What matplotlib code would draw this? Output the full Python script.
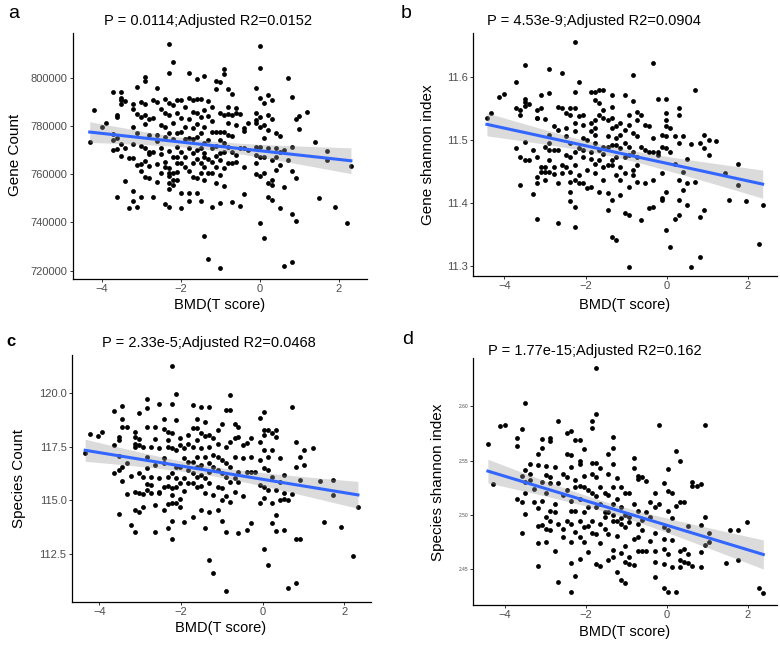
import numpy as np
import matplotlib
matplotlib.use("Agg")
import matplotlib.pyplot as plt

plt.rcParams['font.family'] = ['Liberation Sans', 'DejaVu Sans']

# each panel: list of (BMD T score, [values at that T score])

# a: gene count, in thousands
gene_count = [
    (-4.3, [773.1]), (-4.2, [786.5]), (-4.0, [779.5]), (-3.9, [781.2]),
    (-3.7, [793.9, 776.5, 774.2, 770.1]),
    (-3.6, [784.5, 783.7, 775.1, 770.6, 750.7]),
    (-3.5, [794.0, 791.7, 788.9, 790.7, 772.6, 767.7]),
    (-3.4, [790.2, 770.7, 757.2]),
    (-3.3, [766.6, 746.0]),
    (-3.2, [789.2, 787.0, 779.5, 772.5, 766.6, 753.0, 749.0]),
    (-3.1, [796.1, 784.9, 777.2, 763.9, 746.5]),
    (-3.0, [790.0, 783.8, 771.8, 764.1, 761.2, 750.4]),
    (-2.9, [800.4, 798.6, 789.2, 784.7, 780.8, 771.0, 765.6, 759.0]),
    (-2.8, [783.0, 776.1, 769.2, 768.2, 763.5, 758.3]),
    (-2.7, [790.7, 783.1, 769.0, 750.7]),
    (-2.6, [795.6, 790.0, 776.2, 773.6, 764.1, 756.9]),
    (-2.5, [787.0, 780.4, 771.0, 760.3, 768.2]),
    (-2.4, [791.3, 785.2, 779.4, 775.4, 765.2, 747.6, 763.1]),
    (-2.3, [814.1, 801.8, 789.4, 784.5, 776.9, 769.7, 762.4, 760.3, 759.2, 756.2, 753.7, 746.5]),
    (-2.2, [806.5, 788.7, 781.1, 774.7, 767.2, 760.3, 757.6, 755.5]),
    (-2.1, [790.7, 785.2, 776.9, 771.4, 767.2, 764.5, 761.0, 757.6]),
    (-2.0, [790.7, 783.1, 777.6, 769.3, 764.5, 752.0, 745.8]),
    (-1.9, [788.0, 779.7, 774.4, 767.2, 763.1]),
    (-1.8, [801.8, 791.4, 782.9, 774.8, 770.7, 761.4, 752.3, 749.0]),
    (-1.7, [790.7, 785.9, 779.0, 774.6, 768.9, 764.5, 759.0]),
    (-1.6, [799.4, 791.3, 785.2, 780.8, 775.5, 770.0, 766.1, 758.3, 752.3]),
    (-1.5, [791.3, 783.8, 776.9, 770.7, 764.5, 760.3, 749.0]),
    (-1.4, [800.7, 786.6, 779.4, 772.8, 768.6, 767.2, 763.1, 757.6, 734.4]),
    (-1.3, [790.2, 784.2, 774.2, 766.1, 760.6, 724.7]),
    (-1.2, [788.0, 782.2, 777.6, 770.7, 765.2, 760.3, 746.5]),
    (-1.1, [798.6, 795.4, 777.6, 771.7, 767.5, 763.1, 756.2]),
    (-1.0, [798.1, 785.2, 777.6, 774.2, 768.6, 765.9, 759.6, 748.2, 721.0]),
    (-0.9, [803.5, 801.5, 784.5, 777.6, 772.8, 769.3, 762.4, 755.1]),
    (-0.8, [795.4, 787.7, 784.8, 781.1, 776.2, 771.4, 764.5]),
    (-0.7, [793.4, 784.5, 775.8, 769.3, 764.5, 748.6]),
    (-0.6, [787.3, 785.2, 780.4, 768.0, 765.2]),
    (-0.5, [784.9, 770.7, 746.8]),
    (-0.4, [779.0, 777.9, 770.7, 763.1, 751.6]),
    (-0.3, [781.1, 770.0]),
    (-0.1, [795.7, 785.2, 782.4, 781.1, 771.4, 768.0, 764.8, 760.1]),
    (0.0, [813.3, 804.1, 791.4, 783.8, 779.7, 771.4, 767.2, 759.2, 739.9]),
    (0.1, [789.4, 780.4, 774.8, 767.2, 760.6, 733.4]),
    (0.2, [792.8, 784.5, 778.3, 770.7, 756.2, 750.4]),
    (0.3, [790.7, 782.7, 765.9, 757.4, 749.3, 755.5]),
    (0.4, [776.9, 770.7, 767.2, 761.7]),
    (0.5, [775.8, 769.3, 763.8, 745.8]),
    (0.6, [770.0, 754.8, 722.1]),
    (0.7, [800.0, 765.9]),
    (0.8, [792.0, 771.4, 761.4, 743.3, 723.4]),
    (0.9, [782.7, 758.5, 740.6]),
    (1.0, [784.2, 778.6]),
    (1.2, [785.9]), (1.4, [773.1]), (1.5, [750.0]),
    (1.7, [769.7, 765.9]), (1.9, [746.5]), (2.2, [739.9]), (2.3, [763.5]),
]

# b: gene shannon index
gene_shannon = [
    (-4.43, [11.535]), (-4.32, [11.543]), (-4.12, [11.567]), (-4.0, [11.572]),
    (-3.71, [11.592, 11.550, 11.486]),
    (-3.61, [11.547, 11.539, 11.473, 11.428]),
    (-3.50, [11.618, 11.565, 11.560, 11.553, 11.496, 11.467]),
    (-3.40, [11.557, 11.467]),
    (-3.30, [11.483, 11.414]),
    (-3.20, [11.547, 11.535, 11.534, 11.473, 11.441, 11.431, 11.375]),
    (-3.10, [11.571, 11.550, 11.457, 11.448]),
    (-3.00, [11.533, 11.489, 11.457, 11.448, 11.436]),
    (-2.89, [11.612, 11.574, 11.507, 11.494, 11.484, 11.467, 11.448]),
    (-2.79, [11.521, 11.484, 11.457, 11.445]),
    (-2.68, [11.552, 11.516, 11.484, 11.431, 11.368]),
    (-2.58, [11.606, 11.550, 11.460, 11.447]),
    (-2.48, [11.542, 11.518, 11.505, 11.476, 11.457]),
    (-2.38, [11.550, 11.539, 11.494, 11.473, 11.449, 11.433, 11.417, 11.402]),
    (-2.27, [11.654, 11.576, 11.550, 11.526, 11.513, 11.481, 11.460, 11.436, 11.394, 11.362]),
    (-2.17, [11.592, 11.537, 11.486, 11.444, 11.431]),
    (-2.07, [11.539, 11.523, 11.502, 11.484, 11.473, 11.432]),
    (-1.97, [11.500, 11.452, 11.423]),
    (-1.86, [11.576, 11.526, 11.513, 11.481, 11.470, 11.425]),
    (-1.76, [11.576, 11.563, 11.531, 11.518, 11.507, 11.494, 11.462, 11.447]),
    (-1.66, [11.579, 11.558, 11.539, 11.484, 11.468, 11.417]),
    (-1.56, [11.579, 11.547, 11.534, 11.489, 11.478, 11.457, 11.436]),
    (-1.45, [11.531, 11.505, 11.489, 11.460, 11.415, 11.388]),
    (-1.35, [11.571, 11.552, 11.534, 11.518, 11.492, 11.468, 11.460, 11.404, 11.346]),
    (-1.25, [11.521, 11.502, 11.492, 11.473, 11.444, 11.341]),
    (-1.15, [11.526, 11.507, 11.486, 11.457, 11.436, 11.412]),
    (-1.04, [11.571, 11.515, 11.494, 11.473, 11.447, 11.383]),
    (-0.94, [11.539, 11.523, 11.489, 11.476, 11.425, 11.380, 11.298]),
    (-0.84, [11.603, 11.562, 11.510, 11.481, 11.452, 11.444]),
    (-0.74, [11.544, 11.531, 11.505, 11.473, 11.460, 11.433]),
    (-0.63, [11.539, 11.489, 11.372]),
    (-0.53, [11.523, 11.484, 11.431]),
    (-0.43, [11.521, 11.481, 11.391]),
    (-0.33, [11.621, 11.502, 11.481, 11.436, 11.394]),
    (-0.22, [11.565, 11.481, 11.476]),
    (-0.12, [11.507, 11.489, 11.447, 11.407, 11.404]),
    (-0.02, [11.565, 11.542, 11.531, 11.521, 11.505, 11.486, 11.417, 11.357]),
    (0.08, [11.518, 11.481, 11.330]),
    (0.19, [11.505, 11.462, 11.375]),
    (0.29, [11.550, 11.539, 11.494, 11.436, 11.404, 11.380]),
    (0.39, [11.505, 11.449, 11.420]),
    (0.49, [11.470, 11.431, 11.396]),
    (0.60, [11.493, 11.298]),
    (0.70, [11.579, 11.433]),
    (0.82, [11.495, 11.378, 11.314]),
    (0.92, [11.507, 11.486, 11.389]),
    (1.03, [11.500, 11.476]),
    (1.21, [11.498]), (1.44, [11.447]), (1.54, [11.404]),
    (1.75, [11.461, 11.428]), (1.94, [11.402]), (2.26, [11.334]), (2.36, [11.396]),
]

# c: species count
species_count = [
    (-4.35, [117.18]), (-4.24, [118.06]), (-4.04, [117.98]), (-3.94, [118.19]),
    (-3.64, [119.16, 117.57, 116.29]),
    (-3.53, [117.95, 117.80, 117.07, 116.40, 114.36]),
    (-3.44, [119.40, 118.80, 118.39, 116.56, 115.89]),
    (-3.33, [118.42, 116.71, 115.29]),
    (-3.22, [116.12, 113.84]),
    (-3.14, [118.19, 117.95, 117.64, 117.49, 115.40, 114.54, 113.53]),
    (-3.03, [119.04, 117.84, 117.57, 116.25, 115.35, 114.47]),
    (-2.94, [117.46, 116.09, 115.27, 114.70]),
    (-2.84, [119.71, 119.27, 118.42, 117.02, 116.48, 115.75, 115.50]),
    (-2.73, [117.49, 116.09, 115.71, 115.32]),
    (-2.64, [118.42, 117.83, 116.64, 114.78, 113.52]),
    (-2.53, [119.47, 117.41, 116.02, 115.40, 115.32]),
    (-2.43, [118.76, 118.31, 116.95, 116.71, 115.63, 114.54]),
    (-2.33, [118.19, 117.80, 117.49, 116.09, 115.66, 114.82, 113.69]),
    (-2.23, [121.24, 119.47, 118.11, 117.44, 116.25, 115.55, 115.24, 114.85, 114.05, 113.18]),
    (-2.12, [119.94, 118.73, 117.33, 116.56, 116.02, 115.63, 114.85]),
    (-2.02, [117.88, 117.57, 116.56, 115.78, 115.04, 114.70]),
    (-1.92, [117.41, 116.95, 116.02, 115.43, 114.00]),
    (-1.82, [118.03, 117.64, 116.79, 116.40, 115.78]),
    (-1.71, [119.43, 118.34, 117.49, 116.79, 116.25, 115.78, 114.23]),
    (-1.62, [118.76, 118.34, 117.80, 117.02, 116.56, 116.09, 115.63]),
    (-1.51, [119.32, 118.11, 117.41, 116.64, 116.17, 115.66, 114.54]),
    (-1.41, [118.65, 117.98, 117.02, 116.02, 115.32, 113.69]),
    (-1.31, [119.35, 118.03, 117.49, 116.71, 116.33, 115.78, 114.47, 112.22]),
    (-1.21, [117.88, 117.10, 116.56, 115.24, 111.60]),
    (-1.10, [118.26, 117.64, 117.02, 116.40, 115.63, 114.54]),
    (-1.00, [118.53, 116.87, 116.25, 115.55, 115.00, 114.05]),
    (-0.90, [119.19, 117.49, 116.71, 116.09, 115.19, 113.53, 110.79]),
    (-0.80, [119.89, 119.19, 117.72, 116.56, 115.86, 114.93]),
    (-0.69, [118.57, 117.88, 117.02, 116.02, 115.40]),
    (-0.60, [118.42, 117.95, 116.33, 115.86, 113.46]),
    (-0.49, [117.57, 116.95, 115.19]),
    (-0.39, [117.67, 116.33, 113.61]),
    (-0.29, [117.88, 117.02, 116.33, 113.95]),
    (-0.19, [116.33]),
    (-0.08, [118.81, 117.72, 116.87, 115.71, 114.85]),
    (0.02, [119.12, 118.29, 118.03, 117.33, 116.48, 115.63, 115.09, 112.73]),
    (0.12, [118.26, 117.02, 116.40, 115.47, 111.98]),
    (0.22, [118.11, 117.33, 116.09, 114.85, 113.95]),
    (0.33, [118.26, 117.95, 115.47, 114.31, 113.57]),
    (0.42, [116.95, 115.86, 115.00]),
    (0.53, [116.17, 115.35, 115.04, 113.61]),
    (0.63, [115.00, 110.90]),
    (0.71, [119.35, 115.29]),
    (0.81, [117.72, 116.56, 113.22, 111.13]),
    (0.91, [117.02, 115.94, 113.22]),
    (1.01, [117.33, 116.64]),
    (1.22, [117.41]), (1.40, [115.89]), (1.51, [113.97]),
    (1.71, [115.94, 115.24]), (1.91, [113.74]), (2.22, [112.40]), (2.33, [114.67]),
]

# d: species shannon index
species_shannon = [
    (-4.41, [2.565]), (-4.29, [2.528]), (-4.10, [2.582]), (-3.98, [2.583]),
    (-3.69, [2.571, 2.563, 2.515]),
    (-3.58, [2.579, 2.536, 2.512, 2.483]),
    (-3.49, [2.603, 2.541, 2.530, 2.520, 2.501]),
    (-3.38, [2.547, 2.538, 2.532]),
    (-3.28, [2.524, 2.512]),
    (-3.17, [2.556, 2.546, 2.506, 2.490, 2.474, 2.453]),
    (-3.08, [2.570, 2.562, 2.530, 2.513, 2.491]),
    (-2.97, [2.545, 2.537, 2.520, 2.498, 2.487, 2.475]),
    (-2.87, [2.571, 2.568, 2.535, 2.529, 2.504, 2.494, 2.486]),
    (-2.76, [2.544, 2.510, 2.503, 2.467]),
    (-2.67, [2.586, 2.529, 2.492, 2.438]),
    (-2.56, [2.538, 2.518, 2.487, 2.480]),
    (-2.46, [2.575, 2.556, 2.535, 2.523, 2.494]),
    (-2.35, [2.577, 2.555, 2.544, 2.513, 2.504, 2.492, 2.475, 2.456, 2.429]),
    (-2.26, [2.569, 2.532, 2.526, 2.504, 2.484, 2.444]),
    (-2.15, [2.569, 2.550, 2.547, 2.527, 2.515, 2.494, 2.480, 2.459]),
    (-2.05, [2.561, 2.536, 2.526, 2.503, 2.489, 2.475]),
    (-1.94, [2.523, 2.507, 2.490, 2.466]),
    (-1.85, [2.586, 2.580, 2.548, 2.538, 2.520, 2.494, 2.483]),
    (-1.74, [2.635, 2.593, 2.548, 2.535, 2.517, 2.507, 2.482, 2.455]),
    (-1.64, [2.543, 2.526, 2.510, 2.492, 2.474, 2.453]),
    (-1.53, [2.520, 2.503, 2.498, 2.487]),
    (-1.44, [2.556, 2.538, 2.518, 2.503, 2.482, 2.458]),
    (-1.33, [2.572, 2.562, 2.547, 2.526, 2.510, 2.500, 2.494, 2.468, 2.461]),
    (-1.23, [2.534, 2.515, 2.494, 2.481, 2.447]),
    (-1.12, [2.526, 2.507, 2.497, 2.492, 2.465, 2.440]),
    (-1.03, [2.520, 2.500, 2.489, 2.471, 2.457, 2.437]),
    (-0.92, [2.520, 2.498, 2.493, 2.461, 2.455]),
    (-0.82, [2.552, 2.543, 2.510, 2.478, 2.454]),
    (-0.71, [2.536, 2.533, 2.504, 2.492, 2.480, 2.467]),
    (-0.62, [2.535, 2.495, 2.486, 2.467]),
    (-0.51, [2.531, 2.503, 2.467]),
    (-0.41, [2.512, 2.498, 2.476]),
    (-0.29, [2.520, 2.507, 2.483, 2.467, 2.457, 2.443]),
    (-0.18, [2.583, 2.510]),
    (-0.08, [2.529, 2.489, 2.478, 2.469, 2.455, 2.433]),
    (0.02, [2.542, 2.522, 2.504, 2.486, 2.464, 2.429]),
    (0.12, [2.520, 2.497, 2.477, 2.452]),
    (0.23, [2.559, 2.508, 2.429]),
    (0.33, [2.550, 2.512, 2.467, 2.458, 2.452]),
    (0.43, [2.512, 2.469, 2.457]),
    (0.53, [2.490, 2.464, 2.456]),
    (0.63, [2.530, 2.527, 2.453]),
    (0.74, [2.527]),
    (0.84, [2.528, 2.491, 2.466, 2.452]),
    (0.94, [2.583, 2.498, 2.472]),
    (1.05, [2.483, 2.475]),
    (1.46, [2.456]), (1.56, [2.486]),
    (1.76, [2.486, 2.458]), (1.97, [2.493]), (2.28, [2.433]), (2.38, [2.428]),
]

titles = ["P = 0.0114;Adjusted R2=0.0152", "P = 4.53e-9;Adjusted R2=0.0904",
          "P = 2.33e-5;Adjusted R2=0.0468", "P = 1.77e-15;Adjusted R2=0.162"]
ylabels = ["Gene Count", "Gene shannon index", "Species Count", "Species shannon index"]
letters = ["a", "b", "c", "d"]


def expand(cols, scale=1.0):
    xs, ys = [], []
    for x, vals in cols:
        for v in vals:
            xs.append(x)
            ys.append(v * scale)
    return np.array(xs), np.array(ys)


W, H = 780, 661

panels = [
    dict(data=expand(gene_count, 1000), rect=[0.0932, 0.5775, 0.377, 0.3726],
         xlim=(-4.73, 2.70), ylim=(716400, 818500),
         yticks=[720000, 740000, 760000, 780000, 800000], yfmt="{:.0f}", ysize=8),
    dict(data=expand(gene_shannon), rect=[0.606, 0.5825, 0.390, 0.3676],
         xlim=(-4.78, 2.71), ylim=(11.284, 11.669),
         yticks=[11.3, 11.4, 11.5, 11.6], yfmt="{:.1f}", ysize=8),
    dict(data=expand(species_count), rect=[0.0919, 0.0897, 0.3837, 0.373],
         xlim=(-4.68, 2.65), ylim=(110.28, 121.75),
         yticks=[112.5, 115.0, 117.5, 120.0], yfmt="{:.1f}", ysize=8),
    dict(data=expand(species_shannon), rect=[0.6068, 0.0847, 0.389, 0.373],
         xlim=(-4.77, 2.71), ylim=(2.417, 2.644),
         yticks=[2.45, 2.50, 2.55, 2.60], yfmt="{:.2f}", ysize=3.5),
]

# text positions in pixels (x, y from top)
title_px = [(208, 21), (594, 21), (209, 343), (595, 351)]
letter_px = [(8, 14), (401, 13), (6, 341), (402, 340)]
xlabel_px = [(220, 305), (625, 305), (221, 628), (625, 632)]
ylabel_px = [(15, 155), (428, 155), (19, 478), (438, 482)]

fig = plt.figure(figsize=(W / 100, H / 100), dpi=100)

for i, p in enumerate(panels):
    ax = fig.add_axes(p["rect"])
    x, y = p["data"]

    # linear fit with 95% confidence band
    slope, intercept = np.polyfit(x, y, 1)
    n = len(x)
    resid = y - (slope * x + intercept)
    s = np.sqrt(np.sum(resid ** 2) / (n - 2))
    sxx = np.sum((x - x.mean()) ** 2)
    xf = np.linspace(x.min(), x.max(), 100)
    yf = slope * xf + intercept
    se = s * np.sqrt(1 / n + (xf - x.mean()) ** 2 / sxx)

    ax.scatter(x, y, s=12, color='black', linewidths=0, zorder=2)
    ax.fill_between(xf, yf - 1.97 * se, yf + 1.97 * se, color='#999999',
                    alpha=0.35, linewidth=0, zorder=3)
    ax.plot(xf, yf, color='#3366FF', linewidth=2.2, zorder=4)

    ax.set_xlim(p["xlim"])
    ax.set_ylim(p["ylim"])
    ax.set_xticks([-4, -2, 0, 2])
    ax.set_yticks(p["yticks"])
    ax.set_yticklabels([p["yfmt"].format(t) for t in p["yticks"]])

    for side in ["top", "right"]:
        ax.spines[side].set_visible(False)
    for side in ["left", "bottom"]:
        ax.spines[side].set_linewidth(0.9)
    ax.tick_params(axis='both', direction='out', length=2.2, width=0.7,
                   pad=1.5, colors='#333333', labelcolor='#4d4d4d')
    ax.tick_params(axis='x', labelsize=8)
    ax.tick_params(axis='y', labelsize=p["ysize"])

    fig.text(xlabel_px[i][0] / W, 1 - xlabel_px[i][1] / H, "BMD(T score)",
             fontsize=10.5, ha='center', va='center')
    fig.text(ylabel_px[i][0] / W, 1 - ylabel_px[i][1] / H, ylabels[i],
             fontsize=11, rotation=90, ha='center', va='center')

for i in range(4):
    fig.text(title_px[i][0] / W, 1 - title_px[i][1] / H, titles[i],
             fontsize=10.5, ha='center', va='center')
    fig.text(letter_px[i][0] / W, 1 - letter_px[i][1] / H, letters[i],
             fontsize=14 if letters[i] != "c" else 12,
             fontweight='bold' if letters[i] == "c" else 'normal',
             ha='left', va='center')

fig.savefig("out.png", dpi=100)
